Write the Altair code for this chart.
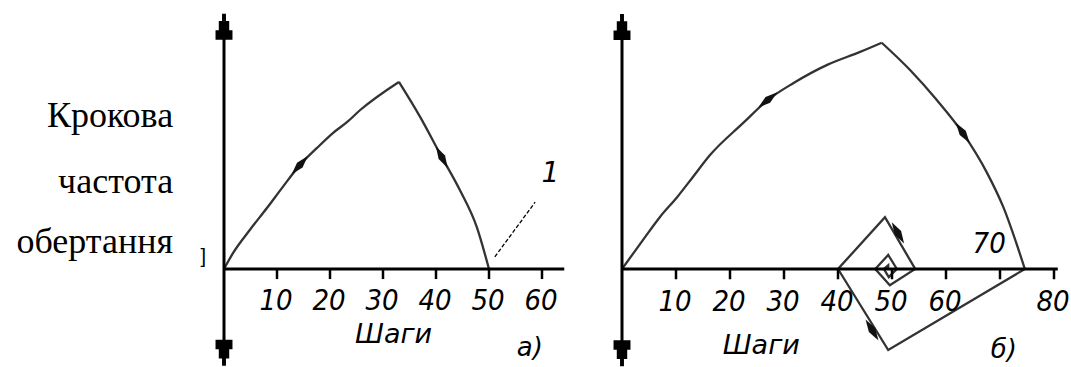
import math
import altair as alt
import pandas as pd

# ---------------- panel a) ----------------
a_rise_x = [0, 1.7, 4.9, 8.1, 11.1, 14.3, 17.5, 20.6, 23.2, 25.7, 33.0]
a_rise_y = [0, 3.0, 7.4, 11.5, 15.5, 19.6, 22.8, 25.7, 27.7, 30.0, 35.3]
a_fall_x = [33.0, 37.0, 41.1, 44.5, 47.7, 50.0]
a_fall_y = [35.3, 28.7, 21.1, 14.9, 7.9, 0]
a_ticks = [10, 20, 30, 40, 50, 60]
a_xmax = 64.2

# ---------------- panel б) ----------------
b_rise_x = [0, 3.9, 7.0, 10.2, 13.1, 16.3, 22.4, 27.0, 31.7, 38.0, 44.1, 48.1]
b_rise_y = [0, 5.4, 9.6, 13.3, 17.0, 21.1, 27.0, 31.3, 34.4, 37.8, 40.2, 41.9]
b_fall_x = [48.1, 53.3, 58.3, 63.1, 67.6, 70.6, 74.6]
b_fall_y = [41.9, 36.9, 31.3, 25.2, 17.8, 11.5, 0]
b_spiral_x = [74.6, 49.3, 40.0, 48.7, 54.3, 49.6, 46.9, 49.3, 50.9, 49.4, 48.5, 49.3, 49.3]
b_spiral_y = [0, -15.0, 0, 9.6, 0, -3.0, 0, 2.6, 0, -1.5, 0, 0.7, 0]
b_ticks = [10, 20, 30, 40, 50, 60, 70, 80]
b_tick_labels = [10, 20, 30, 40, 50, 60, 80]
b_xmax = 80.7

y_labels = ["Крокова", "частота", "обертання"]

LINE = "#333333"
INK = "#000000"
TICK_FONT = "Liberation Sans Narrow, DejaVu Sans Condensed, Liberation Sans, sans-serif"
HEAD = ("M-0.15,-1L0.15,-1L0.15,-0.45L0.4,-0.45L0.4,0.27L0.65,0.27L0.65,1"
        "L-0.65,1L-0.65,0.27L-0.4,0.27L-0.4,-0.45L-0.15,-0.45Z")
DART = "M0,-1L0.3,0L0,1L-0.3,0Z"


def heading(x0, y0, x1, y1):
    # rotation (clockwise, degrees) of an upward glyph along a segment
    return math.degrees(math.atan2(x1 - x0, y1 - y0)) % 360


def panel(segments, ticks, tick_labels, xmax, ytop, ybot, xdom, ydom, width,
          darts, texts, extra=()):
    xs_s = alt.Scale(domain=xdom, nice=False, zero=False)
    ys_s = alt.Scale(domain=ydom, nice=False, zero=False)
    X = lambda f: alt.X(f, type="quantitative", scale=xs_s, axis=None)
    Y = lambda f: alt.Y(f, type="quantitative", scale=ys_s, axis=None)

    layers = []
    for xs, ys, interp in segments:
        path = pd.DataFrame({"x": xs, "y": ys, "i": range(len(xs))})
        layers.append(alt.Chart(path).mark_line(
            color=LINE, strokeWidth=2.3, strokeJoin="miter", interpolate=interp).encode(
            x=X("x"), y=Y("y"), order="i:Q"))

    axes = pd.DataFrame({"x": [0, 0], "y": [ybot, 0], "x2": [0, xmax], "y2": [ytop, 0]})
    layers.append(alt.Chart(axes).mark_rule(color=INK, strokeWidth=3).encode(
        x=X("x"), y=Y("y"), x2="x2", y2="y2"))

    heads = pd.DataFrame({"x": [0, 0], "y": [ytop, ybot], "a": [0, 180]})
    layers.append(alt.Chart(heads).mark_point(
        shape=HEAD, filled=True, color=INK, opacity=1, size=680).encode(
        x=X("x"), y=Y("y"), angle=alt.Angle("a:Q", scale=None)))

    tk = pd.DataFrame({"x": ticks, "y": [0] * len(ticks), "y2": [-1.9] * len(ticks)})
    layers.append(alt.Chart(tk).mark_rule(color=INK, strokeWidth=2.5).encode(
        x=X("x"), y=Y("y"), y2="y2"))

    tl = pd.DataFrame({"x": tick_labels, "y": [-7.7] * len(tick_labels),
                       "t": [str(v) for v in tick_labels]})
    layers.append(alt.Chart(tl).mark_text(
        font=TICK_FONT, fontStyle="italic", fontSize=29, baseline="alphabetic",
        align="center", dx=-1, color=INK).encode(x=X("x"), y=Y("y"), text="t:N"))

    dt = pd.DataFrame(darts, columns=["x", "y", "a"])
    layers.append(alt.Chart(dt).mark_point(
        shape=DART, filled=True, color="#111111", opacity=1, size=600).encode(
        x=X("x"), y=Y("y"), angle=alt.Angle("a:Q", scale=None)))

    for t in texts:
        df = pd.DataFrame({"x": [t["x"]], "y": [t["y"]], "t": [t["text"]]})
        props = {k: v for k, v in t.items() if k not in ("x", "y", "text")}
        layers.append(alt.Chart(df).mark_text(baseline="alphabetic", color=INK, **props)
                      .encode(x=X("x"), y=Y("y"), text="t:N"))
    for seg in extra:
        df = pd.DataFrame(seg["data"])
        layers.append(alt.Chart(df).mark_rule(**seg["style"]).encode(
            x=X("x"), y=Y("y"), x2="x2", y2="y2"))
    return alt.layer(*layers).properties(width=width, height=367)


# panel a): 5.3 px per unit, origin at (224, 269)
a_segments = [(a_rise_x, a_rise_y, "monotone"), (a_fall_x, a_fall_y, "monotone")]
a_darts = [
    (a_rise_x[5], a_rise_y[5], heading(a_rise_x[4], a_rise_y[4], a_rise_x[6], a_rise_y[6])),
    (a_fall_x[2], a_fall_y[2], heading(a_fall_x[1], a_fall_y[1], a_fall_x[3], a_fall_y[3])),
]
a_texts = [
    dict(x=-9.6, y=26.8, text=y_labels[0], font="Liberation Serif", fontSize=36, align="right"),
    dict(x=-9.6, y=14.3, text=y_labels[1], font="Liberation Serif", fontSize=36, align="right"),
    dict(x=-9.6, y=3.0, text=y_labels[2], font="Liberation Serif", fontSize=36, align="right"),
    dict(x=-3.9, y=1.1, text="]", font="Liberation Sans", fontSize=20, align="center"),
    dict(x=32.0, y=-14.0, text="Шаги", font="DejaVu Sans", fontStyle="italic", fontSize=27, align="center"),
    dict(x=57.7, y=-16.5, text="а)", font="DejaVu Sans", fontStyle="italic", fontSize=26, align="center"),
    dict(x=61.6, y=16.4, text="1", font="DejaVu Sans", fontStyle="italic", fontSize=28, align="center"),
]
# leader line pointing at curve 1
a_extra = [dict(data={"x": [51.1], "y": [2.3], "x2": [58.7], "y2": [12.6]},
                style=dict(color=INK, strokeWidth=1.3, strokeDash=[4, 2]))]

a_xdom = [-224 / 5.3, (590 - 224) / 5.3]
a_ydom = [-98 / 5.3, 269 / 5.3]
left = panel(a_segments, a_ticks, a_ticks, a_xmax, 45.7, -15.8, a_xdom, a_ydom, 590,
             a_darts, a_texts, a_extra)

# panel б): 5.4 px per unit, origin 32 px inside the panel
b_segments = [(b_rise_x, b_rise_y, "monotone"), (b_fall_x, b_fall_y, "monotone"),
              (b_spiral_x, b_spiral_y, "linear")]
b_darts = [
    (b_rise_x[7], b_rise_y[7], heading(b_rise_x[6], b_rise_y[6], b_rise_x[8], b_rise_y[8])),
    (b_fall_x[3], b_fall_y[3], heading(b_fall_x[2], b_fall_y[2], b_fall_x[4], b_fall_y[4])),
    (46.3, -11.3, heading(b_spiral_x[1], b_spiral_y[1], b_spiral_x[2], b_spiral_y[2])),
    (51.1, 6.7, heading(b_spiral_x[3], b_spiral_y[3], b_spiral_x[4], b_spiral_y[4])),
]
b_texts = [
    dict(x=25.8, y=-15.7, text="Шаги", font="DejaVu Sans", fontStyle="italic", fontSize=27, align="center"),
    dict(x=70.7, y=-16.5, text="б)", font="DejaVu Sans", fontStyle="italic", fontSize=26, align="center"),
    dict(x=68.0, y=3.0, text="70", font=TICK_FONT, fontStyle="italic", fontSize=29, align="center"),
]
b_xdom = [-32 / 5.4, (481 - 32) / 5.4]
b_ydom = [-98 / 5.4, 269 / 5.4]
right = panel(b_segments, b_ticks, b_tick_labels, b_xmax, 44.8, -15.6, b_xdom, b_ydom, 481,
              b_darts, b_texts)

chart = alt.hconcat(left, right, spacing=0).properties(
    padding=0, background="white").configure_view(strokeWidth=0, stroke="transparent")

chart.save("out.html", embed_options={"renderer": "svg", "actions": False})
